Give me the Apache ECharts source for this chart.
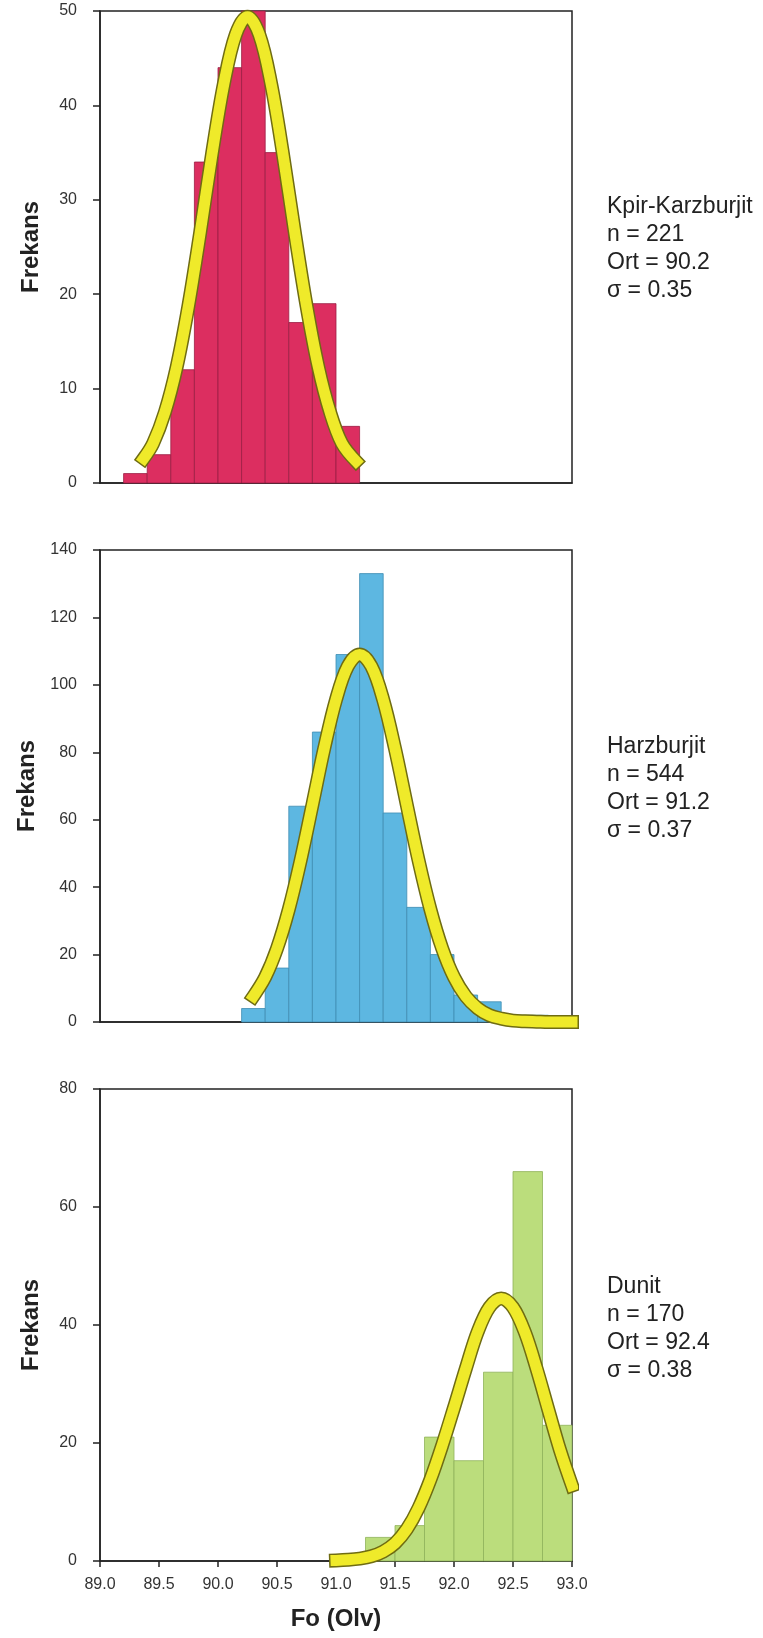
<!DOCTYPE html>
<html>
<head>
<meta charset="utf-8">
<script src="https://cdn.jsdelivr.net/npm/echarts@6.0.0/dist/echarts.min.js"></script>
<style>
html,body{margin:0;padding:0;background:#fff;}
#chart{width:763px;height:1638px;}
</style>
</head>
<body>
<div id="chart"></div>
<script>
// ---------- DATA ----------
const xTicks = [89.0, 89.5, 90.0, 90.5, 91.0, 91.5, 92.0, 92.5, 93.0];

// Kpir-Karzburjit histogram (bin width 0.2)
const kpirBinStart = [89.2, 89.4, 89.6, 89.8, 90.0, 90.2, 90.4, 90.6, 90.8, 91.0];
const kpirCounts   = [1, 3, 12, 34, 44, 50, 35, 17, 19, 6];
const kpirCurveX = [89.37, 89.45, 89.55, 89.65, 89.75, 89.85, 89.95, 90.05, 90.15, 90.25, 90.35, 90.45, 90.55, 90.65, 90.75, 90.85, 90.95, 91.05, 91.17];
const kpirCurveY = [2.6, 4.2, 7.5, 12.3, 18.8, 26.6, 34.9, 42.3, 47.5, 49.4, 47.5, 42.3, 34.9, 26.6, 18.8, 12.3, 7.5, 4.2, 2.3];

// Harzburjit histogram (bin width 0.2)
const harzBinStart = [90.2, 90.4, 90.6, 90.8, 91.0, 91.2, 91.4, 91.6, 91.8, 92.0, 92.2, 92.4, 92.6];
const harzCounts   = [4, 16, 64, 86, 109, 133, 62, 34, 20, 8, 6, 2, 2];
const harzCurveX = [90.3, 90.4, 90.5, 90.6, 90.7, 90.8, 90.9, 91.0, 91.1, 91.2, 91.3, 91.4, 91.5, 91.6, 91.7, 91.8, 91.9, 92.0, 92.1, 92.2, 92.3, 92.4, 92.5, 92.6, 92.7, 92.8, 92.9, 93.0];
const harzCurveY = [7.6, 13.3, 21.8, 33.4, 47.9, 64.4, 81.1, 95.6, 105.5, 109, 105.5, 95.6, 81.1, 64.4, 47.9, 33.4, 21.8, 13.3, 7.6, 4.1, 2.0, 1.0, 0.4, 0.2, 0.1, 0, 0, 0];

// Dunit histogram (bin width 0.25)
const dunBinStart = [91.25, 91.5, 91.75, 92.0, 92.25, 92.5, 92.75];
const dunCounts   = [4, 6, 21, 17, 32, 66, 23];
const dunCurveX = [91.0, 91.1, 91.2, 91.3, 91.4, 91.5, 91.6, 91.7, 91.8, 91.9, 92.0, 92.1, 92.2, 92.3, 92.4, 92.5, 92.6, 92.7, 92.8, 92.9, 93.0];
const dunCurveY = [0.1, 0.2, 0.4, 0.8, 1.6, 3.0, 5.4, 9.0, 13.8, 19.6, 26.0, 32.6, 38.8, 43.0, 44.5, 43.0, 38.8, 32.6, 25.6, 18.7, 12.8];

const labels = [
  ['Kpir-Karzburjit', 'n = 221', 'Ort = 90.2', 'σ = 0.35'],
  ['Harzburjit', 'n = 544', 'Ort = 91.2', 'σ = 0.37'],
  ['Dunit', 'n = 170', 'Ort = 92.4', 'σ = 0.38']
];
const yMax = [50, 140, 80];
const yInterval = [10, 20, 20];
const binWidths = [0.2, 0.2, 0.25];

// ---------- STYLE ----------
const FONT = 'Liberation Sans, Arial, sans-serif';
const AXIS = '#222';
const barColors = ['#DC2E60', '#5DB7E1', '#BBDD7C'];
const barEdges  = ['#9a1e44', '#3f8db3', '#8fb35a'];
const grids = [
  {left: 100, width: 472, top: 11, height: 472},
  {left: 100, width: 472, top: 550, height: 472},
  {left: 100, width: 472, top: 1089, height: 472}
];
const textTops = [193, 733, 1273];

const hist = [
  [kpirBinStart, kpirCounts],
  [harzBinStart, harzCounts],
  [dunBinStart, dunCounts]
];
const curves = [
  [kpirCurveX, kpirCurveY],
  [harzCurveX, harzCurveY],
  [dunCurveX, dunCurveY]
];

const xAxes = [], yAxes = [], series = [], graphics = [];
grids.forEach((g, i) => {
  const isBottom = i === 2;
  xAxes.push({
    gridIndex: i, type: 'value', min: 89, max: 93, interval: 0.5,
    axisLine: {show: true, onZero: false, lineStyle: {color: AXIS, width: 1.5}},
    axisTick: {show: isBottom, inside: false, length: 6, lineStyle: {color: AXIS, width: 1.5}},
    axisLabel: {show: isBottom, fontFamily: FONT, fontSize: 16, color: '#333', margin: 16,
      formatter: v => xTicks.includes(+v.toFixed(1)) ? v.toFixed(1) : ''},
    splitLine: {show: false},
    name: isBottom ? 'Fo (Olv)' : '', nameLocation: 'middle', nameGap: 46,
    nameTextStyle: {fontFamily: FONT, fontSize: 24, fontWeight: 'bold', color: '#222'}
  });
  yAxes.push({
    gridIndex: i, type: 'value', min: 0, max: yMax[i], interval: yInterval[i],
    axisLine: {show: true, lineStyle: {color: AXIS, width: 1.5}},
    axisTick: {show: true, inside: false, length: 7, lineStyle: {color: AXIS, width: 1.5}},
    axisLabel: {fontFamily: FONT, fontSize: 16, color: '#333', margin: 23},
    splitLine: {show: false},
    name: 'Frekans', nameLocation: 'middle', nameRotate: 90, nameGap: 57,
    nameTextStyle: {fontFamily: FONT, fontSize: 24, fontWeight: 'bold', color: '#222'}
  });
  const w = binWidths[i];
  const [starts, counts] = hist[i];
  series.push({
    type: 'custom', xAxisIndex: i, yAxisIndex: i, z: 2,
    data: starts.map((s, k) => [s, +(s + w).toFixed(2), counts[k]]),
    encode: {x: [0, 1], y: 2},
    renderItem: (params, api) => {
      const p0 = api.coord([api.value(0), 0]);
      const p1 = api.coord([api.value(1), api.value(2)]);
      return {
        type: 'rect',
        shape: {x: p0[0], y: p1[1], width: p1[0] - p0[0], height: p0[1] - p1[1]},
        style: {fill: barColors[i], stroke: barEdges[i], lineWidth: 0.8}
      };
    }
  });
  const [cx, cy] = curves[i];
  const pts = cx.map((x, k) => [x, cy[k]]);
  series.push({
    type: 'line', xAxisIndex: i, yAxisIndex: i, z: 5, data: pts, smooth: 0.35,
    symbol: 'none', clip: false, silent: true,
    lineStyle: {color: '#6f6c12', width: 14, cap: 'square', join: 'round'}
  });
  series.push({
    type: 'line', xAxisIndex: i, yAxisIndex: i, z: 6, data: pts, smooth: 0.35,
    symbol: 'none', clip: false, silent: true,
    lineStyle: {color: '#EFEA2A', width: 11, cap: 'square', join: 'round'}
  });
  graphics.push({
    type: 'text', left: 607, top: textTops[i], z: 10,
    style: {text: labels[i].join('\n'), font: '23px ' + FONT, fill: '#222', lineHeight: 28}
  });
});

const chart = echarts.init(document.getElementById('chart'), null, {renderer: 'canvas'});
chart.setOption({
  animation: false,
  backgroundColor: '#fff',
  grid: grids.map(g => Object.assign({show: true, borderColor: AXIS, borderWidth: 1.5, backgroundColor: 'transparent', containLabel: false}, g)),
  xAxis: xAxes,
  yAxis: yAxes,
  series: series,
  graphic: graphics
});
</script>
</body>
</html>
